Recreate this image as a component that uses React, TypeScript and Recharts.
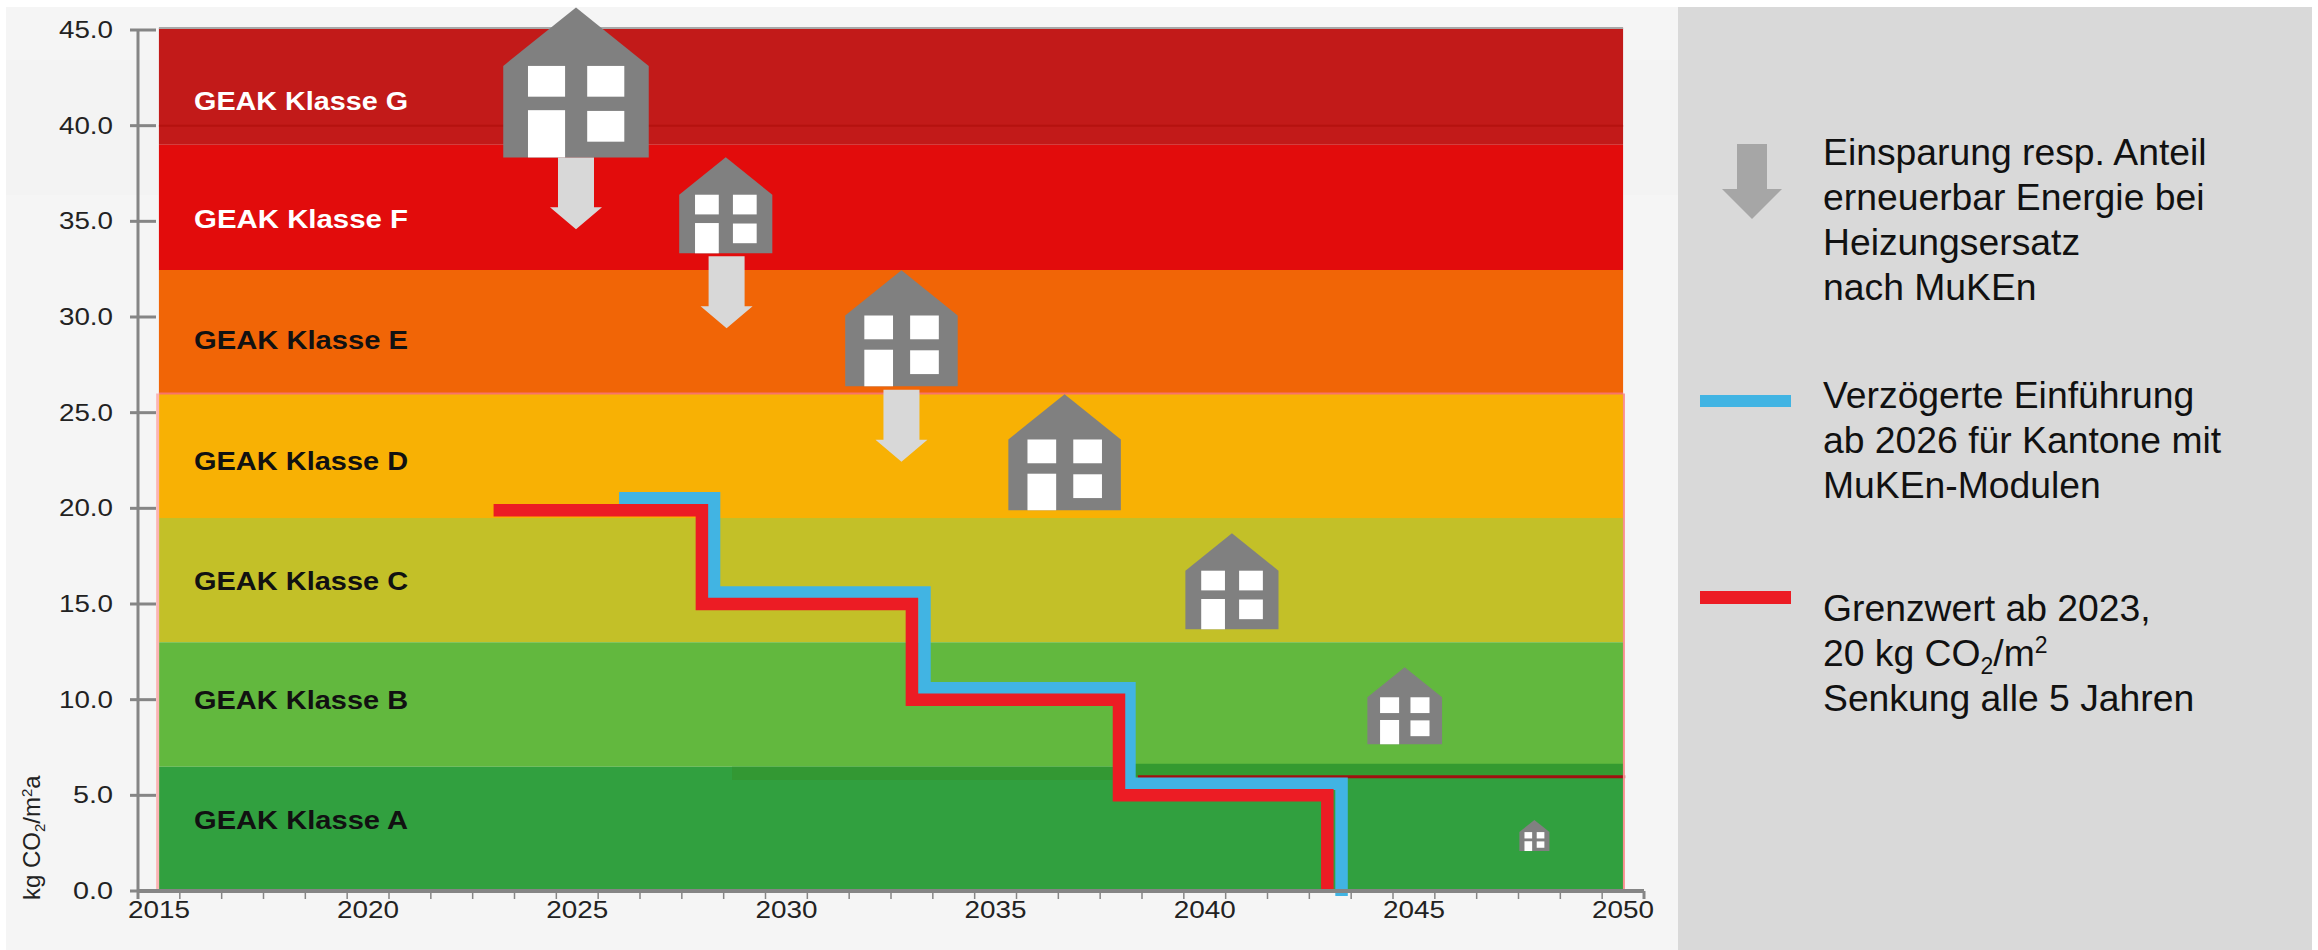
import {
  ComposedChart,
  Line,
  XAxis,
  YAxis,
  ReferenceArea,
  ReferenceDot,
  ReferenceLine,
} from "recharts";

const WIDTH = 2318;
const HEIGHT = 950;

// GEAK classes, top to bottom
const bandLabels = ["GEAK Klasse G", "GEAK Klasse F", "GEAK Klasse E", "GEAK Klasse D", "GEAK Klasse C", "GEAK Klasse B", "GEAK Klasse A"];
const bandUpper = [45.1, 39, 32.45, 26, 19.5, 13, 6.5];
const bandLower = [39, 32.45, 26, 19.5, 13, 6.5, -0.1];
const bandColors = ["#c21a19", "#e20c0c", "#f16506", "#f8b104", "#c3c028", "#62b83e", "#31a03f"];
const bandLabelValues = [41.3, 35.1, 28.8, 22.5, 16.2, 10, 3.7];
const bandLabelColors = ["#fff", "#fff", "#111", "#111", "#111", "#111", "#111"];

// limit values, stepping down every 5 years
const redYears = [2023, 2027.98, 2033, 2037.95, 2042.93];
const redValues = [19.9, 15, 10, 5, 0];
const blueYears = [2026, 2028.27, 2033.3, 2038.2, 2043.27];
const blueValues = [20.53, 15.6, 10.6, 5.6, 0];

// houses: centre year, value at the base
const houseYears = [2024.97, 2028.55, 2032.75, 2036.65, 2040.65, 2044.78, 2047.88];
const houseValues = [38.34, 33.33, 26.38, 19.9, 13.68, 7.67, 2.09];
const houseHeights = [150, 96, 116, 116, 96, 77, 31];

// arrows: centre year, value at the top
const arrowYears = [2024.97, 2028.57, 2032.75];
const arrowValues = [38.35, 33.18, 26.2];

const yTicks = [0, 5, 10, 15, 20, 25, 30, 35, 40, 45];
const xLabelYears = [2015, 2020, 2025, 2030, 2035, 2040, 2045, 2050];
const xBoundaries = Array.from({ length: 37 }, (_, i) => 2014.5 + i);

const redData = redYears.map((year, i) => ({ year, value: redValues[i] }));
const blueData = blueYears.map((year, i) => ({ year, value: blueValues[i] }));

const AXIS = "#858585";
const BLUE = "#41b4e3";
const RED = "#ec1c24";
const FONT = '"Liberation Sans", Arial, sans-serif';

function House({ cx, cy, h }: any) {
  const w = h * 0.97;
  const left = cx - w / 2;
  const win = w * 0.255;
  const winL = cx - w * 0.33;
  const winR = cx + w * 0.077;
  return (
    <g>
      <path
        d={`M${left} ${cy} L${left} ${cy - h * 0.61} L${cx} ${cy - h} L${left + w} ${cy - h * 0.61} L${left + w} ${cy} Z`}
        fill="#808080"
      />
      <rect x={winL} y={cy - h * 0.61} width={win} height={h * 0.205} fill="#fff" />
      <rect x={winR} y={cy - h * 0.61} width={win} height={h * 0.205} fill="#fff" />
      <rect x={winL} y={cy - h * 0.315} width={win} height={h * 0.315} fill="#fff" />
      <rect x={winR} y={cy - h * 0.31} width={win} height={h * 0.205} fill="#fff" />
    </g>
  );
}

function Arrow({ cx, cy }: any) {
  return (
    <path
      d={`M${cx - 18} ${cy} L${cx + 18} ${cy} L${cx + 18} ${cy + 50} L${cx + 26} ${cy + 50} L${cx} ${cy + 72} L${cx - 26} ${cy + 50} L${cx - 18} ${cy + 50} Z`}
      fill="#d8d8d8"
    />
  );
}

function YTick({ x, y, payload }: any) {
  const axisX = x + 8;
  return (
    <g>
      <line x1={axisX - 8} x2={axisX + 18} y1={y} y2={y} stroke={AXIS} strokeWidth={3} />
      <text x={axisX - 25} y={y + 8} textAnchor="end" fontFamily={FONT} fontSize={23} fill="#222" textLength={payload.value < 10 ? 40 : 54} lengthAdjust="spacingAndGlyphs">
        {payload.value.toFixed(1)}
      </text>
    </g>
  );
}

function YTickRight({ x, y }: any) {
  return <line x1={x - 20} x2={x} y1={y} y2={y} stroke="#9a9a9a" strokeWidth={3} />;
}

function XTick({ x, y, payload }: any) {
  const v = payload.value;
  if (xLabelYears.includes(v)) {
    return (
      <text x={x} y={y + 27} textAnchor="middle" fontFamily={FONT} fontSize={24} fill="#222" textLength={62} lengthAdjust="spacingAndGlyphs">
        {v}
      </text>
    );
  }
  if (v % 1 !== 0) {
    const edge = v === 2014.5 || v === 2050.5;
    return <line x1={x} x2={x} y1={y} y2={y + 8} stroke={AXIS} strokeWidth={edge ? 3 : 1.5} />;
  }
  return <g />;
}

function BandLabel({ cx, cy, label, color }: any) {
  return (
    <text x={cx} y={cy + 9} fontFamily={FONT} fontWeight="bold" fontSize={26} fill={color} textLength={214} lengthAdjust="spacingAndGlyphs">
      {label}
    </text>
  );
}

function YTitle() {
  return (
    <text transform="translate(40,900) rotate(-90)" fontFamily={FONT} fontSize={24} fill="#222">
      kg CO
      <tspan fontSize={15} dy={5}>2</tspan>
      <tspan dy={-5}>/m</tspan>
      <tspan fontSize={15} dy={-8}>2</tspan>
      <tspan dy={8}>a</tspan>
    </text>
  );
}

const legendText: React.CSSProperties = {
  position: "absolute",
  left: 1823,
  fontFamily: FONT,
  fontSize: 37.3,
  lineHeight: "45px",
  color: "#111",
  whiteSpace: "nowrap",
};

export default function App() {
  return (
    <div style={{ position: "absolute", left: 0, top: 0, width: WIDTH, height: HEIGHT, background: "#fff", overflow: "hidden" }}>
      <div style={{ position: "absolute", left: 6, top: 7, width: 1672, height: 943, background: "#f5f5f5" }} />
      <div style={{ position: "absolute", left: 6, top: 60, width: 1672, height: 135, background: "#f3f3f3" }} />
      <div style={{ position: "absolute", left: 1678, top: 7, width: 634, height: 943, background: "#d9d9d9" }} />

      <div style={{ position: "absolute", left: 0, top: 0 }}>
        <ComposedChart width={WIDTH} height={HEIGHT} margin={{ top: 30, right: 614, bottom: 0, left: 0 }}>
          <XAxis
            type="number"
            dataKey="year"
            domain={[2014.5, 2050.5]}
            ticks={[...xBoundaries, ...xLabelYears]}
            interval={0}
            height={59}
            tickSize={0}
            tickMargin={0}
            tickLine={false}
            tick={<XTick />}
            axisLine={{ stroke: AXIS, strokeWidth: 4 }}
          />
          <YAxis
            yAxisId="left"
            domain={[0, 45]}
            ticks={yTicks}
            interval={0}
            width={138}
            tickLine={false}
            tickSize={8}
            tickMargin={0}
            tick={<YTick />}
            axisLine={{ stroke: AXIS, strokeWidth: 3 }}
          />
          <YAxis
            yAxisId="right"
            orientation="right"
            domain={[0, 45]}
            ticks={yTicks}
            interval={0}
            width={60}
            tickLine={false}
            tickSize={0}
            tickMargin={0}
            tick={<YTickRight />}
            axisLine={false}
          />

          {bandLabels.map((label, i) => (
            <ReferenceArea
              key={label}
              yAxisId="left"
              x1={2015}
              x2={2050}
              y1={bandLower[i]}
              y2={bandUpper[i]}
              fill={bandColors[i]}
              fillOpacity={1}
              stroke="none"
              ifOverflow="visible"
            />
          ))}

          {/* darker strips and thin limit line near 6 kg */}
          <ReferenceArea yAxisId="left" x1={2028.7} x2={2038} y1={5.8} y2={6.5} fill="#339833" fillOpacity={1} stroke="none" />
          <ReferenceArea yAxisId="left" x1={2038} x2={2050} y1={6} y2={6.65} fill="#349a30" fillOpacity={1} stroke="none" />
          <ReferenceLine yAxisId="left" segment={[{ x: 2038.4, y: 5.97 }, { x: 2050.05, y: 5.97 }]} stroke="#a01010" strokeWidth={3} />

          {/* faint grid and pink outline of the chart image */}
          <ReferenceLine yAxisId="left" segment={[{ x: 2015, y: 40 }, { x: 2050, y: 40 }]} stroke="#b5120f" strokeWidth={2} />
          <ReferenceLine yAxisId="left" segment={[{ x: 2015, y: 45.1 }, { x: 2050, y: 45.1 }]} stroke="#a8a8a8" strokeWidth={2} ifOverflow="visible" />
          <ReferenceLine yAxisId="left" segment={[{ x: 2015, y: 26 }, { x: 2050, y: 26 }]} stroke="#f8736a" strokeWidth={2} />
          <ReferenceLine yAxisId="left" segment={[{ x: 2014.97, y: 26 }, { x: 2014.97, y: 0 }]} stroke="#fbb4b4" strokeWidth={3} />
          <ReferenceLine yAxisId="left" segment={[{ x: 2050.02, y: 26 }, { x: 2050.02, y: 0 }]} stroke="#f89090" strokeWidth={2} />

          {/* the step lines run a little past the axis at the bottom */}
          <ReferenceLine yAxisId="left" segment={[{ x: 2043.27, y: 0.1 }, { x: 2043.27, y: -0.26 }]} stroke={BLUE} strokeWidth={12.5} ifOverflow="visible" />
          <ReferenceLine yAxisId="left" segment={[{ x: 2042.93, y: 0.1 }, { x: 2042.93, y: -0.1 }]} stroke={RED} strokeWidth={12.5} ifOverflow="visible" />

          {bandLabels.map((label, i) => (
            <ReferenceDot
              key={label}
              yAxisId="left"
              x={2015.84}
              y={bandLabelValues[i]}
              ifOverflow="visible"
              shape={(p: any) => <BandLabel cx={p.cx} cy={p.cy} label={label} color={bandLabelColors[i]} />}
            />
          ))}

          <Line
            yAxisId="left"
            data={blueData}
            dataKey="value"
            type="stepAfter"
            stroke={BLUE}
            strokeWidth={12.5}
            strokeLinejoin="miter"
            dot={false}
            activeDot={false}
            isAnimationActive={false}
          />
          <Line
            yAxisId="left"
            data={redData}
            dataKey="value"
            type="stepAfter"
            stroke={RED}
            strokeWidth={12.5}
            strokeLinejoin="miter"
            dot={false}
            activeDot={false}
            isAnimationActive={false}
          />

          {arrowYears.map((year, i) => (
            <ReferenceDot key={year} yAxisId="left" x={year} y={arrowValues[i]} ifOverflow="visible" shape={(p: any) => <Arrow cx={p.cx} cy={p.cy} />} />
          ))}
          {houseYears.map((year, i) => (
            <ReferenceDot key={year} yAxisId="left" x={year} y={houseValues[i]} ifOverflow="visible" shape={(p: any) => <House cx={p.cx} cy={p.cy} h={houseHeights[i]} />} />
          ))}
          <YTitle />
        </ComposedChart>
      </div>

      {/* legend panel */}
      <svg width={WIDTH} height={HEIGHT} style={{ position: "absolute", left: 0, top: 0 }}>
        <path d="M1737 144 L1767 144 L1767 189 L1782 189 L1752 219 L1722 189 L1737 189 Z" fill="#a6a6a6" />
        <rect x={1700} y={395} width={91} height={12} fill={BLUE} />
        <rect x={1700} y={591} width={91} height={13} fill={RED} />
      </svg>
      <div style={{ ...legendText, top: 130 }}>
        Einsparung resp. Anteil<br />erneuerbar Energie bei<br />Heizungsersatz<br />nach MuKEn
      </div>
      <div style={{ ...legendText, top: 373 }}>
        Verzögerte Einführung<br />ab 2026 für Kantone mit<br />MuKEn-Modulen
      </div>
      <div style={{ ...legendText, top: 586 }}>
        Grenzwert ab 2023,<br />
        20 kg CO<sub style={{ fontSize: 23, lineHeight: 0 }}>2</sub>/m<sup style={{ fontSize: 23, lineHeight: 0 }}>2</sup>
        <br />Senkung alle 5 Jahren
      </div>
    </div>
  );
}
